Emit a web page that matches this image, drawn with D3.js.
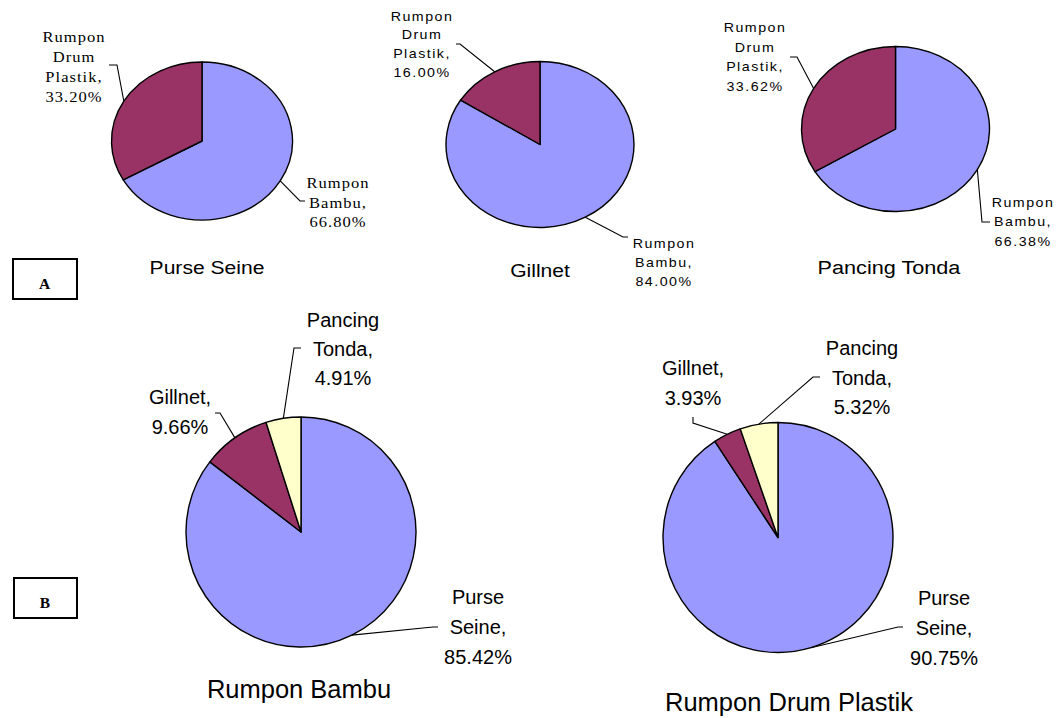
<!DOCTYPE html>
<html>
<head>
<meta charset="utf-8">
<script src="https://cdn.jsdelivr.net/npm/d3@7"></script>
<style>
  body { margin: 0; background: #fff; }
  svg { display: block; }
</style>
</head>
<body>
<svg id="chart" width="1059" height="718"></svg>
<script>
// Panel A: share of each FAD type within a fishing gear
const rumponTypes = ["Rumpon Bambu", "Rumpon Drum Plastik"];
const purseSeineShare = [66.80, 33.20];
const gillnetShare = [84.00, 16.00];
const pancingTondaShare = [66.38, 33.62];

// Panel B: share of each fishing gear within a FAD type
const gearTypes = ["Purse Seine", "Gillnet", "Pancing Tonda"];
const rumponBambuShare = [85.42, 9.66, 4.91];
const rumponDrumShare = [90.75, 3.93, 5.32];

const panelLabels = ["A", "B"];

const colorA = d3.scaleOrdinal().domain(rumponTypes).range(["#9999FF", "#993366"]);
const colorB = d3.scaleOrdinal().domain(gearTypes).range(["#9999FF", "#993366", "#FFFFCC"]);

const svg = d3.select("#chart");
const fmt = d3.format(".2f");

// Layout of each pie: centre, radii, stretch, fonts and label placement
const pies = [
  {
    title: "Purse Seine", names: rumponTypes, values: purseSeineShare, color: colorA,
    cx: 202, cy: 141, rx: 90.5, ry: 79,
    font: "'Liberation Serif','Times New Roman',serif", fs: 14.5, ls: 0.9, sx: 1.14,
    titleX: 207, titleY: 274, titleFs: 18.5,
    labels: [
      { x: 338, y: 183, lh: 19.5, elbow: [300, 201], end: [305, 201] },
      { x: 74, y: 37, lh: 20, elbow: [117, 65], end: [109, 65] }
    ]
  },
  {
    title: "Gillnet", names: rumponTypes, values: gillnetShare, color: colorA,
    cx: 540, cy: 144.5, rx: 94, ry: 83,
    font: "'Liberation Sans',Arial,sans-serif", fs: 12.5, ls: 1.3, sx: 1.14,
    titleX: 540, titleY: 276.5, titleFs: 18.5,
    labels: [
      { x: 664, y: 243, lh: 19.3, elbow: [623, 237], end: [628, 237] },
      { x: 422, y: 16, lh: 19, elbow: [460, 44], end: [456, 44] }
    ]
  },
  {
    title: "Pancing Tonda", names: rumponTypes, values: pancingTondaShare, color: colorA,
    cx: 895.5, cy: 129, rx: 94, ry: 82.5,
    font: "'Liberation Sans',Arial,sans-serif", fs: 12.5, ls: 1.3, sx: 1.14,
    titleX: 889, titleY: 274, titleFs: 19,
    labels: [
      { x: 1023, y: 202, lh: 20, elbow: [982, 222], end: [990, 222] },
      { x: 755, y: 27.5, lh: 19.7, elbow: [797, 57], end: [790, 57] }
    ]
  },
  {
    title: "Rumpon Bambu", names: gearTypes, values: rumponBambuShare, color: colorB,
    cx: 301, cy: 532, rx: 115, ry: 115,
    font: "'Liberation Sans',Arial,sans-serif", fs: 20, ls: 0, sx: 1,
    titleX: 299, titleY: 698, titleFs: 25.5,
    labels: [
      { x: 478, y: 597, lh: 30, elbow: [433, 627], end: [438, 627] },
      { x: 180, y: 397, lh: 30, elbow: [220, 413], end: [215, 413] },
      { x: 343, y: 320, lh: 29, elbow: [294, 348], end: [301, 348] }
    ]
  },
  {
    title: "Rumpon Drum Plastik", names: gearTypes, values: rumponDrumShare, color: colorB,
    cx: 778, cy: 537.5, rx: 115, ry: 115,
    font: "'Liberation Sans',Arial,sans-serif", fs: 20, ls: 0, sx: 1,
    titleX: 789, titleY: 711, titleFs: 25.5,
    labels: [
      { x: 944, y: 598, lh: 30, elbow: [898, 627], end: [903, 627] },
      { x: 693, y: 368, lh: 30, elbow: [693, 423], end: [693, 417] },
      { x: 862, y: 348, lh: 29.5, elbow: [813, 377], end: [820, 377] }
    ]
  }
];

const pieLayout = d3.pie().sort(null).value(d => d.value).startAngle(0).endAngle(2 * Math.PI);

pies.forEach(p => {
  const data = p.names.map((name, i) => ({ name, value: p.values[i] }));
  const arcs = pieLayout(data);
  const arc = d3.arc().innerRadius(0).outerRadius(p.ry);

  // slices (stretched horizontally for the wider pies)
  const g = svg.append("g")
    .attr("transform", `translate(${p.cx},${p.cy}) scale(${p.rx / p.ry},1)`);
  g.selectAll("path")
    .data(arcs)
    .join("path")
    .attr("d", arc)
    .attr("fill", d => p.color(d.data.name))
    .attr("stroke", "#000")
    .attr("stroke-width", 1.4)
    .attr("stroke-linejoin", "round")
    .attr("vector-effect", "non-scaling-stroke");

  // leader lines from the middle of each slice's rim to its label
  arcs.forEach((a, i) => {
    const L = p.labels[i];
    const mid = (a.startAngle + a.endAngle) / 2;
    const ax = p.cx + p.rx * Math.sin(mid);
    const ay = p.cy - p.ry * Math.cos(mid);
    svg.append("path")
      .attr("d", d3.line()([[ax, ay], L.elbow, L.end]))
      .attr("fill", "none")
      .attr("stroke", "#000")
      .attr("stroke-width", 1.1);

    const words = a.data.name.split(" ");
    const lines = words.map((w, k) => k === words.length - 1 ? w + "," : w);
    lines.push(fmt(a.data.value) + "%");

    const tg = svg.append("g")
      .attr("transform", `translate(${L.x},${L.y + 0.36 * p.fs}) scale(${p.sx},1)`);
    tg.selectAll("text")
      .data(lines)
      .join("text")
      .attr("x", 0)
      .attr("y", (d, k) => k * L.lh)
      .attr("text-anchor", "middle")
      .attr("font-family", p.font)
      .attr("font-size", p.fs)
      .attr("letter-spacing", p.ls)
      .attr("fill", "#000")
      .text(d => d);
  });

  // pie title
  svg.append("g")
    .attr("transform", `translate(${p.titleX},${p.titleY}) scale(${p.sx},1)`)
    .append("text")
    .attr("text-anchor", "middle")
    .attr("font-family", "'Liberation Sans',Arial,sans-serif")
    .attr("font-size", p.titleFs)
    .attr("fill", "#000")
    .text(p.title);
});

// panel markers
const boxes = [
  { label: panelLabels[0], x: 13, y: 259, w: 64, h: 40, ty: 289 },
  { label: panelLabels[1], x: 14, y: 578, w: 63, h: 40, ty: 608 }
];
boxes.forEach(b => {
  svg.append("rect")
    .attr("x", b.x).attr("y", b.y).attr("width", b.w).attr("height", b.h)
    .attr("fill", "#fff").attr("stroke", "#000").attr("stroke-width", 2);
  svg.append("text")
    .attr("x", b.x + b.w / 2 - 0.5).attr("y", b.ty)
    .attr("text-anchor", "middle")
    .attr("font-family", "'Liberation Serif','Times New Roman',serif")
    .attr("font-weight", "bold")
    .attr("font-size", 15.5)
    .text(b.label);
});
</script>
</body>
</html>
